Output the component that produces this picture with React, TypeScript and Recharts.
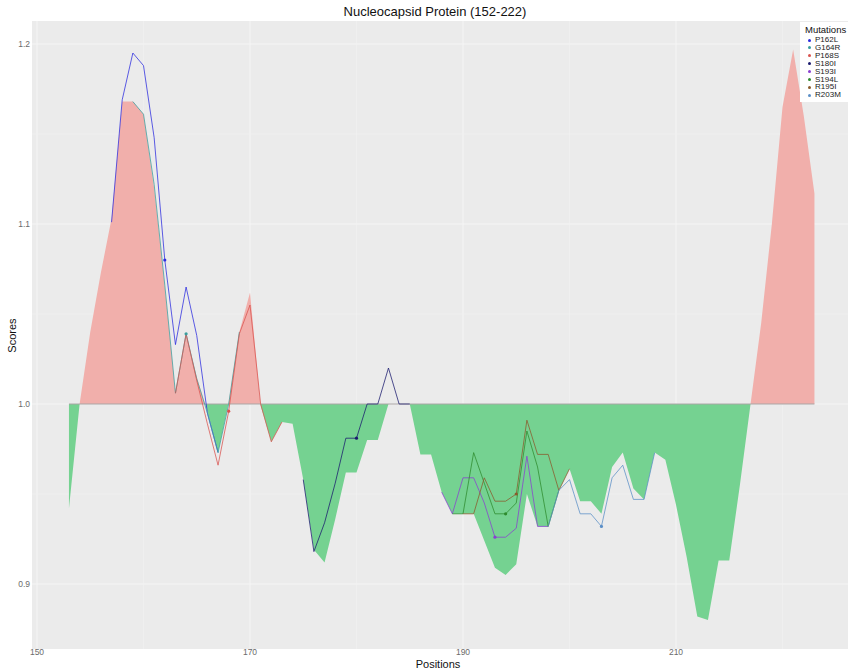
import React from 'react';
import { ComposedChart, Area, Line, XAxis, YAxis, CartesianGrid, ReferenceLine } from 'recharts';

// ---- data ----
const positions = [
  153, 154, 155, 156, 157, 158, 159, 160, 161, 162,
  163, 164, 165, 166, 167, 168, 169, 170, 171, 172,
  173, 174, 175, 176, 177, 178, 179, 180, 181, 182,
  183, 184, 185, 186, 187, 188, 189, 190, 191, 192,
  193, 194, 195, 196, 197, 198, 199, 200, 201, 202,
  203, 204, 205, 206, 207, 208, 209, 210, 211, 212,
  213, 214, 215, 216, 217, 218, 219, 220, 221, 222, 223,
];

const wildTypeScores = [
  0.942, 1.0, 1.04, 1.073, 1.103, 1.168, 1.168, 1.161, 1.12, 1.065,
  1.006, 1.039, 1.015, 0.996, 0.973, 1.001, 1.04, 1.062, 0.999, 0.979,
  0.99, 0.989, 0.958, 0.919, 0.912, 0.936, 0.962, 0.962, 0.98, 0.98,
  1.0, 1.0, 1.0, 0.972, 0.972, 0.951, 0.939, 0.939, 0.939, 0.924,
  0.909, 0.905, 0.911, 0.95, 0.932, 0.932, 0.952, 0.964, 0.946, 0.946,
  0.939, 0.965, 0.973, 0.953, 0.947, 0.973, 0.969, 0.944, 0.915, 0.882,
  0.88, 0.913, 0.913, 0.955, 1.0, 1.045, 1.1, 1.165, 1.197, 1.16, 1.117,
];

const mutationNames = ['P162L', 'G164R', 'P168S', 'S180I', 'S193I', 'S194L', 'R195I', 'R203M'];
const mutationSites = [162, 164, 168, 180, 193, 194, 195, 203];
const mutationColors = ['#2B2BE0', '#3A9E9E', '#D9534F', '#1A1A6E', '#8A3FD1', '#2E8B2E', '#8B5A2B', '#5B8FC7'];
const windowStarts = [157, 159, 163, 175, 188, 189, 190, 198];

const p162lScores = [1.101, 1.169, 1.195, 1.188, 1.148, 1.08, 1.033, 1.065, 1.038, 0.995, 0.973];
const g164rScores = [1.168, 1.161, 1.122, 1.066, 1.006, 1.039, 1.014, 0.995, 0.973, 1.0, 1.04];
const p168sScores = [1.006, 1.039, 1.013, 0.989, 0.966, 0.996, 1.039, 1.055, 1.0, 0.979, 0.99];
const s180iScores = [0.958, 0.918, 0.934, 0.956, 0.981, 0.981, 1.0, 1.0, 1.02, 1.0, 1.0];
const s193iScores = [0.951, 0.939, 0.959, 0.959, 0.945, 0.926, 0.926, 0.931, 0.971, 0.932, 0.932];
const s194lScores = [0.939, 0.939, 0.973, 0.956, 0.939, 0.939, 0.945, 0.985, 0.965, 0.932, 0.952];
const r195iScores = [0.939, 0.939, 0.959, 0.946, 0.946, 0.95, 0.991, 0.972, 0.972, 0.952, 0.964];
const r203mScores = [0.932, 0.952, 0.958, 0.939, 0.939, 0.932, 0.959, 0.966, 0.947, 0.947, 0.973];

const mutationScores = [p162lScores, g164rScores, p168sScores, s180iScores, s193iScores, s194lScores, r195iScores, r203mScores];

const xTicks = [150, 170, 190, 210];
const xMinor = [160, 180, 200, 220];
const yTicks = [0.9, 1.0, 1.1, 1.2];
const yMinor = [0.95, 1.05, 1.15];

// ---- table for the library ----
const tableData = positions.map((pos, i) => {
  const row: Record<string, number> = { pos, wt: wildTypeScores[i] };
  mutationNames.forEach((name, k) => {
    const j = pos - windowStarts[k];
    if (j >= 0 && j < mutationScores[k].length) row[name] = mutationScores[k][j];
  });
  return row;
});

const wtMax = Math.max(...wildTypeScores);
const wtMin = Math.min(...wildTypeScores);
const splitOffset = (wtMax - 1) / (wtMax - wtMin);

const FONT = '"Liberation Sans", Arial, Helvetica, sans-serif';

const makeDot = (k: number) => (props: any) => {
  const { cx, cy, payload, index } = props;
  if (payload && payload.pos === mutationSites[k] && cx != null && cy != null) {
    return <circle key={`d-${k}-${index}`} cx={cx} cy={cy} r={1.6} fill={mutationColors[k]} stroke="none" />;
  }
  return <g key={`n-${k}-${index}`} />;
};

const LegendBox = () => (
  <div style={{ position: 'absolute', left: 800, top: 22, width: 48, height: 80, background: '#FFFFFF', fontFamily: FONT }}>
    <div style={{ position: 'absolute', left: 5, top: 2, fontSize: 9.5, color: '#111', whiteSpace: 'nowrap', lineHeight: '11px' }}>Mutations</div>
    {mutationNames.map((name, k) => (
      <div key={name} style={{ position: 'absolute', left: 8, top: 14 + k * 7.9, height: 8, display: 'flex', alignItems: 'center', whiteSpace: 'nowrap' }}>
        <span style={{ width: 3, height: 3, borderRadius: 2, background: mutationColors[k], display: 'inline-block', marginRight: 4 }} />
        <span style={{ fontSize: 8, color: '#222', lineHeight: '8px' }}>{name}</span>
      </div>
    ))}
  </div>
);

export default function App() {
  return (
    <div style={{ position: 'absolute', left: 0, top: 0, width: 848, height: 670, background: '#FFFFFF', overflow: 'hidden', fontFamily: FONT }}>
      <ComposedChart
        width={848}
        height={670}
        data={tableData}
        margin={{ top: 21, right: 0, bottom: 0, left: 0 }}
      >
        <defs>
          <linearGradient id="wtFill" x1="0" y1="0" x2="0" y2="1">
            <stop offset={0} stopColor="#F1AFAB" />
            <stop offset={splitOffset} stopColor="#F1AFAB" />
            <stop offset={splitOffset} stopColor="#75D291" />
            <stop offset={1} stopColor="#75D291" />
          </linearGradient>
        </defs>
        <CartesianGrid
          fill="#EBEBEB"
          stroke="#F5F5F5"
          strokeWidth={1}
          verticalValues={xTicks}
          horizontalValues={yTicks}
        />
        <CartesianGrid
          stroke="#F1F1F1"
          strokeWidth={0.6}
          verticalValues={xMinor}
          horizontalValues={yMinor}
        />
        <XAxis
          type="number"
          dataKey="pos"
          domain={[149.53, 226.15]}
          ticks={xTicks}
          allowDataOverflow
          axisLine={false}
          tickLine={false}
          tickSize={0}
          tickMargin={0}
          height={21}
          tick={{ fontSize: 8.5, fill: '#6B6B6B', fontFamily: FONT }}
        />
        <YAxis
          type="number"
          domain={[0.86389, 1.21278]}
          ticks={yTicks}
          allowDataOverflow
          axisLine={false}
          tickLine={false}
          tickSize={0}
          tickMargin={2}
          width={32}
          tickFormatter={(v: number) => v.toFixed(1)}
          tick={{ fontSize: 8.5, fill: '#6B6B6B', fontFamily: FONT }}
        />
        <Area
          type="linear"
          dataKey="wt"
          baseValue={1}
          stroke="none"
          fill="url(#wtFill)"
          fillOpacity={1}
          dot={false}
          activeDot={false}
          isAnimationActive={false}
          legendType="none"
        />
        <ReferenceLine
          segment={[{ x: positions[0], y: 1 }, { x: positions[positions.length - 1], y: 1 }]}
          stroke="#A9A4A4"
          strokeWidth={1}
        />
        {mutationNames.map((name, k) => (
          <Line
            key={name}
            type="linear"
            dataKey={name}
            stroke={mutationColors[k]}
            strokeWidth={0.9}
            strokeOpacity={0.85}
            dot={makeDot(k)}
            activeDot={false}
            connectNulls={false}
            isAnimationActive={false}
          />
        ))}
      </ComposedChart>
      <LegendBox />
      <div style={{ position: 'absolute', left: 235, top: 4, width: 400, textAlign: 'center', fontSize: 13, lineHeight: '16px', color: '#111' }}>
        Nucleocapsid Protein (152-222)
      </div>
      <div style={{ position: 'absolute', left: 338, top: 659, width: 200, textAlign: 'center', fontSize: 11, lineHeight: '11px', color: '#111' }}>
        Positions
      </div>
      <div style={{ position: 'absolute', left: -38, top: 329, width: 100, textAlign: 'center', fontSize: 11, lineHeight: '13px', color: '#111', transform: 'rotate(-90deg)' }}>
        Scores
      </div>
    </div>
  );
}
